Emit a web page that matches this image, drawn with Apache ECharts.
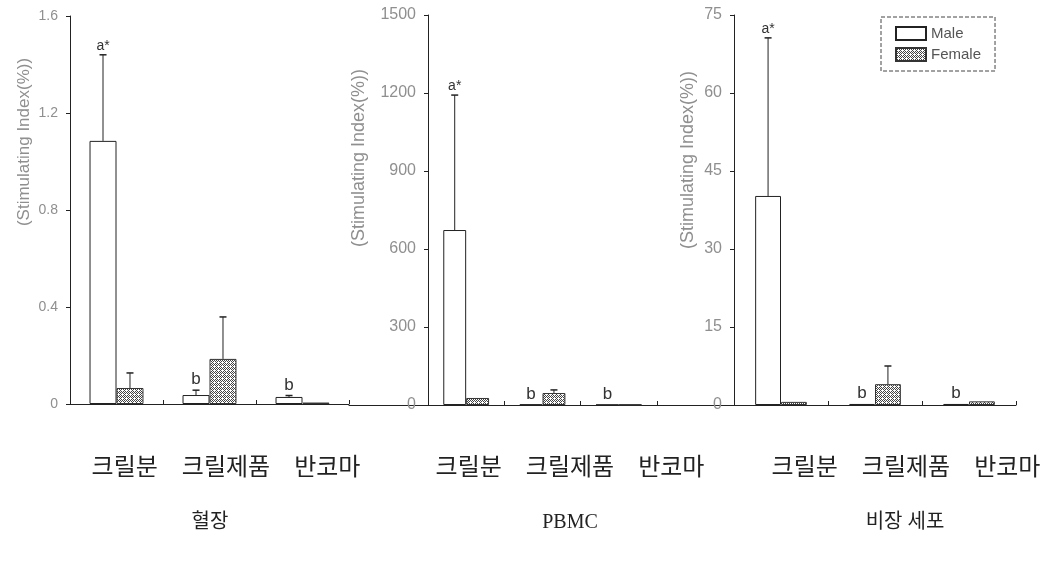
<!DOCTYPE html>
<html>
<head>
<meta charset="utf-8">
<script src="https://cdn.jsdelivr.net/npm/echarts@6/dist/echarts.min.js"></script>
<style>
html,body{margin:0;padding:0;background:#fff;}
#chart{width:1048px;height:562px;}
</style>
</head>
<body>
<div id="chart"></div>
<script>
// ---- data ----
var categories = ['크릴분', '크릴제품', '반코마'];
var panelNames = ['혈장', 'PBMC', '비장 세포'];
var seriesNames = ['Male', 'Female'];
var sigLabels = ['a*', 'b', 'b'];

var plasmaMale = [1.085, 0.037, 0.029];
var plasmaMaleErr = [0.355, 0.02, 0.006];
var plasmaFemale = [0.066, 0.186, 0.006];
var plasmaFemaleErr = [0.062, 0.173, 0];

var pbmcMale = [673, 2, 1];
var pbmcMaleErr = [519, 0, 0];
var pbmcFemale = [27, 46, 2];
var pbmcFemaleErr = [0, 12, 0];

var spleenMale = [40.2, 0.2, 0.2];
var spleenMaleErr = [30.4, 0, 0];
var spleenFemale = [0.6, 4.0, 0.7];
var spleenFemaleErr = [0, 3.5, 0];

var yMax = [1.6, 1500, 75];
var yInterval = [0.4, 300, 15];
var yTickLabels = [
  ['0', '0.4', '0.8', '1.2', '1.6'],
  ['0', '300', '600', '900', '1200', '1500'],
  ['0', '15', '30', '45', '60', '75']
];
var yTitle = '(Stimulating Index(%))';

// ---- pattern for Female ----
function makePattern() {
  var c = document.createElement('canvas');
  c.width = 4; c.height = 4;
  var g = c.getContext('2d');
  g.fillStyle = '#ffffff';
  g.fillRect(0, 0, 4, 4);
  g.fillStyle = '#444444';
  for (var yy = 0; yy < 4; yy++) {
    for (var xx = 0; xx < 4; xx++) {
      if ((xx + yy) % 2 === 0) g.fillRect(xx, yy, 1, 1);
    }
  }
  g.fillStyle = '#ffffff';
  g.fillRect(2, 2, 1, 1);
  return c;
}
var femalePattern = { image: makePattern(), repeat: 'repeat' };

var panels = [
  { male: plasmaMale, maleErr: plasmaMaleErr, female: plasmaFemale, femaleErr: plasmaFemaleErr,
    grid: { left: 70, top: 16, width: 279, height: 388 }, gap: 0.42, labelSize: 14, labelMargin: 12,
    nameGap: 37, namePad: 136, nameSize: 17 },
  { male: pbmcMale, maleErr: pbmcMaleErr, female: pbmcFemale, femaleErr: pbmcFemaleErr,
    grid: { left: 428, top: 15, width: 229, height: 390 }, gap: 0.40, labelSize: 16, labelMargin: 12,
    nameGap: 60, namePad: 104, nameSize: 18 },
  { male: spleenMale, maleErr: spleenMaleErr, female: spleenFemale, femaleErr: spleenFemaleErr,
    grid: { left: 734, top: 15, width: 282, height: 390 }, gap: 0.45, labelSize: 16, labelMargin: 12,
    nameGap: 37, namePad: 100, nameSize: 18 }
];

var grids = [], xAxes = [], yAxes = [], series = [];

panels.forEach(function (p, i) {
  grids.push(p.grid);
  xAxes.push({
    type: 'category', gridIndex: i, data: categories,
    axisLine: { lineStyle: { color: '#222', width: 1 } },
    axisTick: { show: true, inside: true, length: 4, lineStyle: { color: '#222' } },
    axisLabel: { show: false },
    splitLine: { show: false }
  });
  yAxes.push({
    type: 'value', gridIndex: i, min: 0, max: yMax[i], interval: yInterval[i],
    axisLine: { show: true, lineStyle: { color: '#222', width: 1 } },
    axisTick: { show: true, length: 4, lineStyle: { color: '#222' } },
    splitLine: { show: false },
    axisLabel: {
      margin: p.labelMargin, color: '#8f8f8f', fontSize: p.labelSize, fontFamily: 'Liberation Sans',
      formatter: function (v) {
        var idx = Math.round(v / yInterval[i]);
        return yTickLabels[i][idx] !== undefined ? yTickLabels[i][idx] : '';
      }
    },
    name: yTitle, nameLocation: 'middle', nameRotate: 90, nameGap: p.nameGap,
    nameTextStyle: { color: '#8f8f8f', fontSize: p.nameSize, fontFamily: 'Liberation Sans',
      padding: [0, 0, 0, p.namePad] }
  });
  var gapPct = Math.round(p.gap * 100) + '%';
  series.push({
    name: 'Male', type: 'bar', xAxisIndex: i, yAxisIndex: i, data: p.male,
    barGap: '0%', barCategoryGap: gapPct,
    itemStyle: { color: '#ffffff', borderColor: '#222', borderWidth: 1 },
    emphasis: { disabled: true }
  });
  series.push({
    name: 'Female', type: 'bar', xAxisIndex: i, yAxisIndex: i, data: p.female,
    barGap: '0%', barCategoryGap: gapPct,
    itemStyle: { color: femalePattern, borderColor: '#333', borderWidth: 1 },
    emphasis: { disabled: true }
  });
  // error bars + significance letters
  var errData = [];
  categories.forEach(function (c, k) {
    errData.push([k, p.male[k], p.maleErr[k], -1, k]);
    errData.push([k, p.female[k], p.femaleErr[k], 1, -1]);
  });
  (function (gap) {
    series.push({
      type: 'custom', xAxisIndex: i, yAxisIndex: i, z: 5, silent: true,
      data: errData,
      renderItem: function (params, api) {
        var cat = api.value(0), val = api.value(1), err = api.value(2), side = api.value(3), lab = api.value(4);
        var band = api.size([1, 0])[0];
        var bw = band * (1 - gap) / 2;
        var base = api.coord([cat, val]);
        var x = base[0] + side * bw / 2;
        var topY = api.coord([cat, val + err])[1];
        var children = [];
        if (err > 0) {
          children.push({ type: 'line', shape: { x1: x, y1: base[1], x2: x, y2: topY },
            style: { stroke: '#222', lineWidth: 1 } });
          children.push({ type: 'line', shape: { x1: x - 3.5, y1: topY, x2: x + 3.5, y2: topY },
            style: { stroke: '#222', lineWidth: 1.5 } });
        }
        if (lab >= 0) {
          children.push({ type: 'text', x: x, y: topY - 2,
            style: { text: sigLabels[lab], fill: '#333', fontSize: lab === 0 ? 14 : 17,
              fontFamily: 'Liberation Sans', align: 'center', verticalAlign: 'bottom' } });
        }
        return { type: 'group', children: children };
      }
    });
  })(p.gap);
});

// helper baseline extensions between panels
var helpers = [
  { left: 349, top: 15, width: 79, height: 390 },
  { left: 657, top: 15, width: 77, height: 390 }
];
helpers.forEach(function (h) {
  var gi = grids.length;
  grids.push(h);
  xAxes.push({ type: 'value', gridIndex: gi, min: 0, max: 1, axisLine: { show: true, lineStyle: { color: '#222' } },
    axisTick: { show: false }, axisLabel: { show: false }, splitLine: { show: false } });
  yAxes.push({ type: 'value', gridIndex: gi, min: 0, max: 1, show: false });
});

var titles = [];
var rowCenters = [221, 565, 901];
var nameCenters = [205, 565, 900];
rowCenters.forEach(function (cx, i) {
  titles.push({ text: categories.join('\u3000'), left: cx, top: 452, textAlign: 'center',
    textStyle: { fontSize: 24, fontWeight: 'normal', color: '#222', fontFamily: 'Liberation Serif, Noto Sans CJK KR' } });
  titles.push({ text: panelNames[i], left: nameCenters[i], top: 508, textAlign: 'center',
    textStyle: { fontSize: 20, fontWeight: 'normal', color: '#222', fontFamily: 'Liberation Serif, Noto Sans CJK KR' } });
});

var chart = echarts.init(document.getElementById('chart'), null, { renderer: 'canvas' });
chart.setOption({
  animation: false,
  backgroundColor: '#ffffff',
  title: titles,
  legend: {
    data: seriesNames, orient: 'vertical', left: 881, top: 17,
    icon: 'rect', itemWidth: 30, itemHeight: 13, itemGap: 6,
    padding: [9, 14, 9, 14],
    borderColor: '#444', borderWidth: 1, borderType: 'dashed',
    textStyle: { color: '#555', fontSize: 15, fontFamily: 'Liberation Sans' },
    selectedMode: false
  },
  grid: grids,
  xAxis: xAxes,
  yAxis: yAxes,
  series: series
});
</script>
</body>
</html>
